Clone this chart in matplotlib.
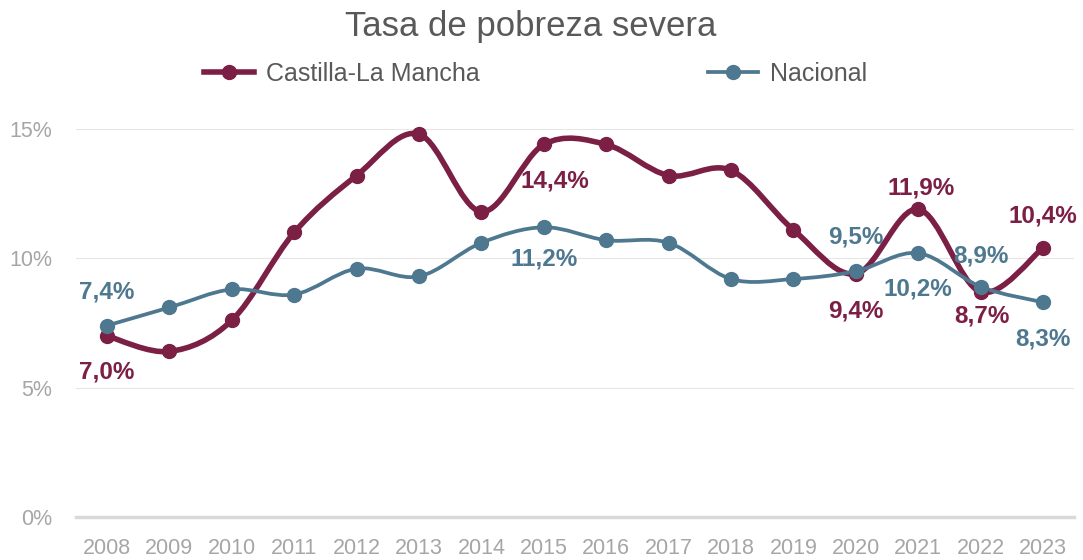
import numpy as np
import matplotlib
matplotlib.use("Agg")
import matplotlib.pyplot as plt
from matplotlib.path import Path
from matplotlib.patches import PathPatch
from matplotlib.lines import Line2D

# data
years = [2008, 2009, 2010, 2011, 2012, 2013, 2014, 2015, 2016, 2017, 2018, 2019, 2020, 2021, 2022, 2023]
clm = [7.0, 6.4, 7.6, 11.0, 13.2, 14.8, 11.8, 14.4, 14.4, 13.2, 13.4, 11.1, 9.4, 11.9, 8.7, 10.4]
nacional = [7.4, 8.1, 8.8, 8.6, 9.6, 9.3, 10.6, 11.2, 10.7, 10.6, 9.2, 9.2, 9.5, 10.2, 8.9, 8.3]
yticks = [0, 5, 10, 15]
ytick_labels = ["0%", "5%", "10%", "15%"]

# labelled points -> label offset (dx, dy) in points
clm_labels = {2008: (0, -26), 2015: (8, -26.5), 2020: (0, -26.5), 2021: (2, 15), 2022: (1, -17), 2023: (0, 23)}
nac_labels = {2008: (0, 24), 2015: (0, -23), 2020: (0, 24.5), 2021: (0, -26), 2022: (0, 22), 2023: (0, -26.5)}

RED = "#7B1F45"
BLUE = "#4E7890"
GREY = "#A6A6A6"
FONT = "Liberation Sans"


def smooth_path(x, y):
	# excel-like smoothed line: cubic bezier with catmull-rom control points
	x = np.asarray(x, float)
	y = np.asarray(y, float)
	n = len(x)
	verts = [(x[0], y[0])]
	codes = [Path.MOVETO]
	for i in range(n - 1):
		x0, y0 = (x[i - 1], y[i - 1]) if i > 0 else (x[i], y[i])
		x3, y3 = (x[i + 2], y[i + 2]) if i + 2 < n else (x[i + 1], y[i + 1])
		c1 = (x[i] + (x[i + 1] - x0) / 6, y[i] + (y[i + 1] - y0) / 6)
		c2 = (x[i + 1] - (x3 - x[i]) / 6, y[i + 1] - (y3 - y[i]) / 6)
		verts += [c1, c2, (x[i + 1], y[i + 1])]
		codes += [Path.CURVE4] * 3
	return Path(verts, codes)


def fmt(v):
	return ("%.1f%%" % v).replace(".", ",")


fig = plt.figure(figsize=(10.83, 5.6), dpi=100)
ax = fig.add_axes([0.070, 0.0768, 0.9219, 0.6929])

xs = np.arange(len(years))

for vals, col, lw, ms in [(clm, RED, 4.0, 10), (nacional, BLUE, 2.7, 10)]:
	ax.add_patch(PathPatch(smooth_path(xs, vals), facecolor="none", edgecolor=col,
		lw=lw, capstyle="round", joinstyle="round", zorder=3, clip_on=False))
	ax.plot(xs, vals, ls="none", marker="o", ms=ms, color=col, zorder=4, clip_on=False)

for labels, vals, col in [(clm_labels, clm, RED), (nac_labels, nacional, BLUE)]:
	for yr, off in labels.items():
		i = years.index(yr)
		ax.annotate(fmt(vals[i]), (xs[i], vals[i]), xytext=off, textcoords="offset points",
			ha="center", va="center", fontsize=17.5, fontweight="bold", color=col,
			family=FONT, zorder=5)

ax.set_xlim(-0.5, len(years) - 0.5)
ax.set_ylim(0, 15)
ax.set_yticks(yticks)
ax.set_yticklabels(ytick_labels)
ax.set_xticks(xs)
ax.set_xticklabels([str(y) for y in years])
ax.grid(axis="y", color="#E6E6E6", lw=0.8)
ax.set_axisbelow(True)
for s in ["top", "right", "left"]:
	ax.spines[s].set_visible(False)
ax.spines["bottom"].set_color("#D9D9D9")
ax.spines["bottom"].set_linewidth(2.5)
ax.tick_params(length=0, colors=GREY, labelsize=15.5, pad=15)
ax.tick_params(axis="y", pad=17)
for t in ax.get_xticklabels() + ax.get_yticklabels():
	t.set_family(FONT)

fig.text(0.490, 0.952, "Tasa de pobreza severa", ha="center", va="center",
	fontsize=25, color="#595959", family=FONT)

handles = [Line2D([], [], color=RED, lw=4.0, marker="o", ms=10),
	Line2D([], [], color=BLUE, lw=2.7, marker="o", ms=10)]
fig.legend(handles, ["Castilla-La Mancha", "Nacional"], loc="center", bbox_to_anchor=(0.4945, 0.868),
	ncol=2, frameon=False, columnspacing=9.1, handlelength=2.0, handletextpad=0.5,
	prop={"family": FONT, "size": 18}, labelcolor="#595959", borderpad=0)

fig.savefig("out.png", dpi=100)
